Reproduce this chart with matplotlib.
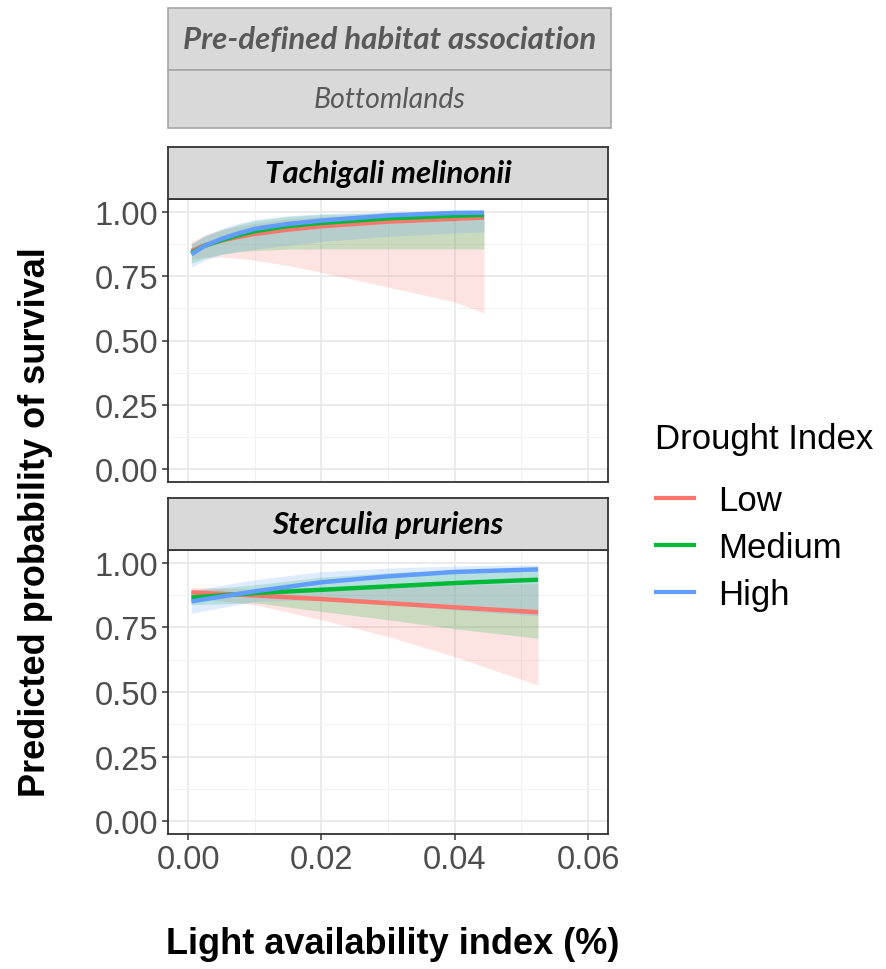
import matplotlib
matplotlib.use("Agg")
import matplotlib.pyplot as plt
from matplotlib.patches import Rectangle
from matplotlib.lines import Line2D

W, H = 886, 970

# drought index groups (ggplot default hues)
groups = ["Low", "Medium", "High"]
colors = ["#F8766D", "#00BA38", "#619CFF"]

# Tachigali melinonii
x_tach = [0.0005, 0.0025, 0.005, 0.0075, 0.01, 0.015, 0.02, 0.03, 0.04, 0.0444]
tach_fit = {
    "Low":    [0.848, 0.870, 0.888, 0.902, 0.914, 0.931, 0.944, 0.962, 0.973, 0.978],
    "Medium": [0.840, 0.868, 0.890, 0.909, 0.925, 0.945, 0.957, 0.975, 0.985, 0.988],
    "High":   [0.835, 0.868, 0.895, 0.916, 0.934, 0.953, 0.966, 0.986, 0.996, 0.997],
}
tach_lo = {
    "Low":    [0.815, 0.822, 0.825, 0.820, 0.812, 0.792, 0.765, 0.708, 0.650, 0.607],
    "Medium": [0.800, 0.820, 0.835, 0.844, 0.850, 0.855, 0.856, 0.856, 0.856, 0.856],
    "High":   [0.785, 0.812, 0.835, 0.847, 0.855, 0.870, 0.885, 0.905, 0.918, 0.922],
}
tach_hi = {
    "Low":    [0.885, 0.910, 0.930, 0.944, 0.955, 0.972, 0.982, 0.992, 0.996, 0.997],
    "Medium": [0.875, 0.905, 0.930, 0.950, 0.965, 0.982, 0.990, 0.997, 0.999, 0.999],
    "High":   [0.875, 0.908, 0.935, 0.955, 0.970, 0.985, 0.993, 0.998, 0.999, 0.999],
}

# Sterculia pruriens
x_ster = [0.0005, 0.01, 0.02, 0.03, 0.04, 0.0525]
ster_fit = {
    "Low":    [0.886, 0.874, 0.860, 0.844, 0.828, 0.809],
    "Medium": [0.866, 0.883, 0.896, 0.909, 0.922, 0.935],
    "High":   [0.851, 0.890, 0.925, 0.948, 0.965, 0.975],
}
ster_lo = {
    "Low":    [0.865, 0.838, 0.780, 0.715, 0.637, 0.527],
    "Medium": [0.838, 0.846, 0.812, 0.780, 0.745, 0.708],
    "High":   [0.805, 0.851, 0.857, 0.840, 0.818, 0.795],
}
ster_hi = {
    "Low":    [0.905, 0.900, 0.905, 0.910, 0.915, 0.920],
    "Medium": [0.893, 0.915, 0.945, 0.962, 0.972, 0.980],
    "High":   [0.893, 0.935, 0.966, 0.980, 0.988, 0.993],
}

panels = [
    ("Tachigali melinonii", x_tach, tach_fit, tach_lo, tach_hi),
    ("Sterculia pruriens", x_ster, ster_fit, ster_lo, ster_hi),
]

y_ticks = [0.0, 0.25, 0.5, 0.75, 1.0]
y_labels = ["0.00", "0.25", "0.50", "0.75", "1.00"]
x_ticks = [0.0, 0.02, 0.04, 0.06]
x_labels = ["0.00", "0.02", "0.04", "0.06"]


def box(x0, y0, x1, y1):
    # pixel box (top-left origin) -> figure fraction rect
    return [x0 / W, 1 - y1 / H, (x1 - x0) / W, (y1 - y0) / H]


fig = plt.figure(figsize=(W / 100, H / 100), dpi=100)
fig.patch.set_facecolor("white")

strip_font = ["Lato", "DejaVu Sans"]
axis_font = ["Liberation Sans", "DejaVu Sans"]

# header boxes added above the facets
for (y0, y1, txt, wt, fs) in [(9, 71, "Pre-defined habitat association", "bold", 22.5),
                              (71, 129, "Bottomlands", "normal", 20.5)]:
    fig.patches.append(Rectangle((168 / W, 1 - y1 / H), (611 - 168) / W, (y1 - y0) / H,
                                 transform=fig.transFigure, facecolor="#D9D9D9",
                                 edgecolor="#A6A6A6", linewidth=1.2))
    fig.text(389.5 / W, 1 - (y0 + y1) / 2 / H, txt, ha="center", va="center",
             fontsize=fs, fontstyle="italic", fontweight=wt, color="#595959",
             family=strip_font)

panel_px = [(200, 483, 148), (551, 835, 499)]

for (title, xs, fit, lo, hi), (py0, py1, sy0) in zip(panels, panel_px):
    ax = fig.add_axes(box(168, py0, 608, py1))
    ax.set_xlim(-0.003, 0.063)
    ax.set_ylim(-0.05, 1.05)
    ax.set_xticks(x_ticks)
    ax.set_yticks(y_ticks)
    ax.set_xticks([0.01, 0.03, 0.05], minor=True)
    ax.set_yticks([0.125, 0.375, 0.625, 0.875], minor=True)
    ax.grid(which="major", color="#EBEBEB", linewidth=1.4)
    ax.grid(which="minor", color="#F2F2F2", linewidth=0.8)
    ax.set_axisbelow(True)
    ax.tick_params(which="minor", length=0)
    ax.tick_params(which="major", length=4, width=1.1, color="#333333",
                   labelsize=23.5, labelcolor="#4D4D4D", pad=3)
    ax.set_yticklabels(y_labels, family=axis_font)
    if py0 < 500:
        ax.set_xticklabels([])
        ax.tick_params(axis="x", length=0)
    else:
        ax.set_xticklabels(x_labels, family=axis_font)
    for s in ax.spines.values():
        s.set_color("#333333")
        s.set_linewidth(1.3)

    for g, c in zip(groups, colors):
        ax.fill_between(xs, lo[g], hi[g], color=c, alpha=0.2, linewidth=0)
    for g, c in zip(groups, colors):
        ax.plot(xs, fit[g], color=c, linewidth=3.2, solid_capstyle="butt")

    # facet strip
    sax = fig.add_axes(box(168, sy0, 608, py0))
    sax.set_xticks([])
    sax.set_yticks([])
    sax.set_facecolor("#D9D9D9")
    for s in sax.spines.values():
        s.set_color("#333333")
        s.set_linewidth(1.3)
    sax.text(0.5, 0.5, title, transform=sax.transAxes, ha="center", va="center",
             fontsize=22.5, fontstyle="italic", fontweight="bold", color="black",
             family=strip_font)

fig.text(36 / W, 1 - 522 / H, "Predicted probability of survival", rotation=90,
         ha="center", va="center", fontsize=26, fontweight="bold", family=axis_font)
fig.text(393 / W, 1 - 945 / H, "Light availability index (%)", ha="center",
         va="center", fontsize=26, fontweight="bold", family=axis_font)

# legend: title placed separately to match the wider gap
fig.text(655 / W, 1 - 440 / H, "Drought Index", ha="left", va="center",
         fontsize=25, family=axis_font)
handles = [Line2D([0], [0], color=c, linewidth=3.0) for c in colors]
leg = fig.legend(handles, groups, loc="upper left",
                 bbox_to_anchor=(656 / W, 1 - 485 / H), frameon=False,
                 prop={"family": axis_font, "size": 25}, handlelength=1.1,
                 handletextpad=0.7, labelspacing=0.4, borderpad=0,
                 borderaxespad=0)

fig.savefig("out.png", dpi=100)
